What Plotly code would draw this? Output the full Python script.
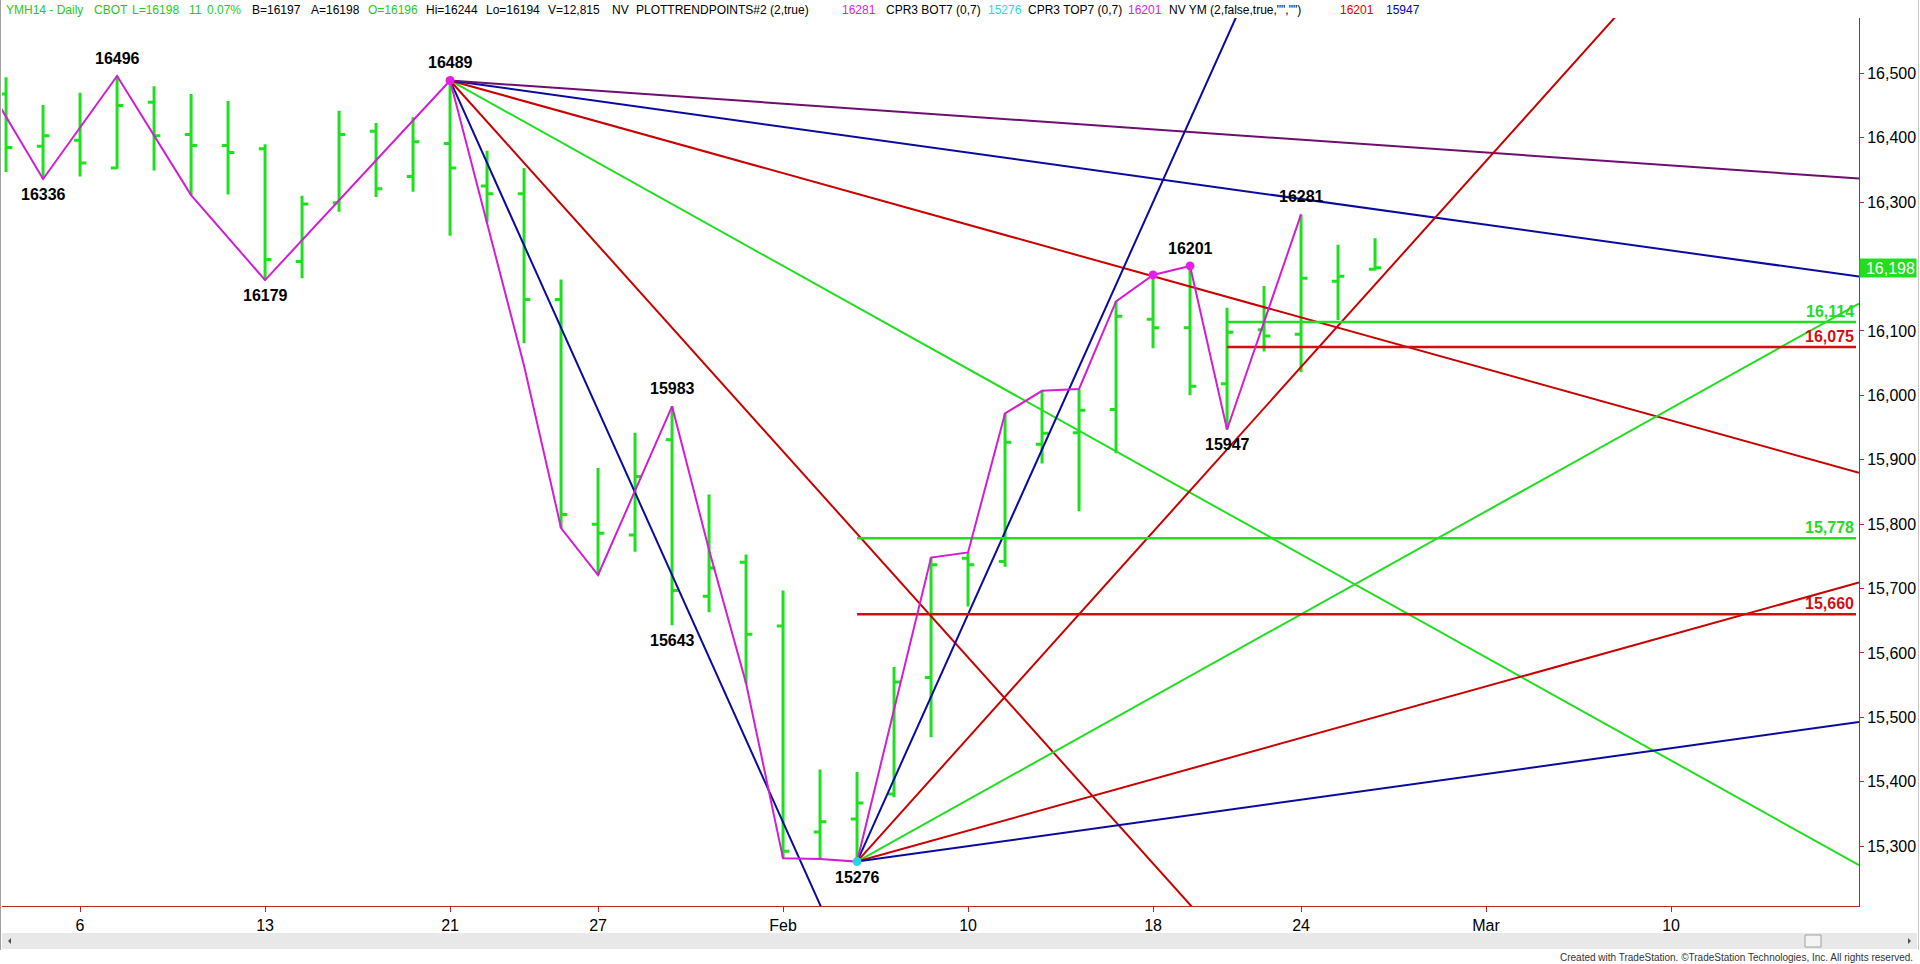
import plotly.graph_objects as go

# ---------------- data ----------------
bar_idx = list(range(-2, 36))   # trading-day index, 0 = Jan 6 2014
bar_open = [16468, 16387, 16396, 16353, 16455, 16405, 16388, 16383, 16208, 16299,
            16410, 16340, 16391, 16325, 16313, 16149, 15800, 15783, 15931, 15688,
            15741, 15642, 15322, 15342, 15381, 15562, 15747, 15742, 15924, 15942,
            15978, 16118, 16105, 16018, 16102, 16095, 16177, 16196]
bar_high = [16494, 16451, 16470, 16496, 16480, 16468, 16457, 16390, 16310, 16442,
            16423, 16432, 16489, 16380, 16353, 16180, 15887, 15942, 15983, 15846,
            15753, 15697, 15419, 15415, 15578, 15748, 15756, 15972, 16007, 16010,
            16146, 16187, 16201, 16136, 16170, 16281, 16234, 16244]
bar_low = [16347, 16336, 16340, 16352, 16349, 16311, 16312, 16179, 16182, 16285,
           16308, 16316, 16248, 16269, 16081, 15794, 15721, 15757, 15643, 15663,
           15553, 15281, 15280, 15276, 15376, 15469, 15672, 15734, 15894, 15820,
           15910, 16073, 16000, 15947, 16068, 16036, 16117, 16194]
bar_close = [16385, 16403, 16361, 16450, 16403, 16388, 16377, 16211, 16297, 16405,
             16321, 16394, 16353, 16313, 16149, 15815, 15786, 15874, 15697, 15732,
             15629, 15292, 15338, 15367, 15555, 15737, 15737, 15927, 15941, 15977,
             16123, 16105, 16014, 16098, 16092, 16182, 16185, 16198]

x_tick_idx = [0, 5, 10, 14, 19, 24, 29, 33, 38, 43]
x_tick_text = ["6", "13", "21", "27", "Feb", "10", "18", "24", "Mar", "10"]
y_tick_vals = [15300, 15400, 15500, 15600, 15700, 15800, 15900, 16000, 16100, 16200,
               16300, 16400, 16500]

swing_idx = [-2.16, -1, 1, 2, 3, 5, 10, 12, 13, 14, 16, 17, 18, 19, 20, 21, 23, 24,
             25, 26, 27, 28, 29, 30, 31, 33]
swing_val = [16448, 16336, 16496, 16404, 16311, 16179, 16489, 16046, 15794, 15721,
             15983, 15760, 15553, 15281, 15280, 15276, 15748, 15756, 15972, 16007,
             16010, 16146, 16187, 16201, 15947, 16281]

label_idx = [-1, 1, 5, 10, 16, 16, 21, 30, 31, 33]
label_val = [16336, 16496, 16179, 16489, 15983, 15643, 15276, 16201, 15947, 16281]
label_pos = ["below", "above", "below", "above", "above", "below", "below", "above",
             "below", "above"]

dot_idx = [10, 29, 30]
dot_val = [16489, 16187, 16201]
low_dot_idx = [21]
low_dot_val = [15276]

level_start = [21, 21, 31, 31]
level_val = [15778, 15660, 16114, 16075]
level_col = ["green", "red", "green", "red"]

high_pivot_idx, high_pivot_val = 10, 16489
low_pivot_idx, low_pivot_val = 21, 15276
high_fan_slopes = [-128, -64, -32, -16, -8, -4]     # points per bar
high_fan_cols = ["blue", "red", "green", "red", "blue", "purple"]
low_fan_slopes = [128, 64, 32, 16, 8]
low_fan_cols = ["blue", "red", "green", "red", "blue"]

last_price = 16198

# ---------------- style ----------------
COL = {"green": "#22DD22", "red": "#C80000", "blue": "#0A0A9E", "purple": "#6E0E6E"}
LEVEL_RED = "#D01010"
BAR_GREEN = "#1EE01E"
MAGENTA = "#D21ED2"
AXIS_RED = "#B02828"
FONT = "Arial, Liberation Sans, sans-serif"

PL, PR, PT, PB = 2, 1859, 18, 906
X_MIN, X_MAX = -2.11, 48.08
Y_MIN, Y_MAX = 15207, 16586


def px(x):
    return (x - PL) / (PR - PL)


def py(y):
    return (PB - y) / (PB - PT)


fig = go.Figure()

# fan lines
for s, c in zip(high_fan_slopes, high_fan_cols):
    fig.add_trace(go.Scatter(x=[high_pivot_idx, X_MAX],
                             y=[high_pivot_val, high_pivot_val + s * (X_MAX - high_pivot_idx)],
                             mode="lines", line=dict(color=COL[c], width=2),
                             hoverinfo="skip", showlegend=False))
for s, c in zip(low_fan_slopes, low_fan_cols):
    fig.add_trace(go.Scatter(x=[low_pivot_idx, X_MAX],
                             y=[low_pivot_val, low_pivot_val + s * (X_MAX - low_pivot_idx)],
                             mode="lines", line=dict(color=COL[c], width=2),
                             hoverinfo="skip", showlegend=False))

# horizontal levels
for st, v, c in zip(level_start, level_val, level_col):
    lc = COL[c] if c == "green" else LEVEL_RED
    fig.add_trace(go.Scatter(x=[st, X_MAX - 0.08], y=[v, v], mode="lines",
                             line=dict(color=lc, width=2.5),
                             hoverinfo="skip", showlegend=False))
    fig.add_annotation(x=X_MAX - 0.08, y=v, xref="x", yref="y", text="<b>%s</b>" % format(v, ","),
                       showarrow=False, xanchor="right", yanchor="bottom", yshift=0,
                       font=dict(family=FONT, size=16, color=lc))

# OHLC bars
fig.add_trace(go.Ohlc(x=bar_idx, open=bar_open, high=bar_high, low=bar_low, close=bar_close,
                      increasing=dict(line=dict(color=BAR_GREEN, width=3)),
                      decreasing=dict(line=dict(color=BAR_GREEN, width=3)),
                      tickwidth=0.17, hoverinfo="skip", showlegend=False))

# swing line
fig.add_trace(go.Scatter(x=swing_idx, y=swing_val, mode="lines",
                         line=dict(color=MAGENTA, width=2), hoverinfo="skip", showlegend=False))
fig.add_trace(go.Scatter(x=dot_idx, y=dot_val, mode="markers",
                         marker=dict(color="#E61EE6", size=9), hoverinfo="skip", showlegend=False))
fig.add_trace(go.Scatter(x=low_dot_idx, y=low_dot_val, mode="markers",
                         marker=dict(color="#28D2E6", size=9), hoverinfo="skip", showlegend=False))

# pivot labels
for i, v, p in zip(label_idx, label_val, label_pos):
    fig.add_annotation(x=i, y=v, xref="x", yref="y", text="<b>%d</b>" % v, showarrow=False,
                       xanchor="center", yanchor="bottom" if p == "above" else "top",
                       yshift=7 if p == "above" else -5,
                       font=dict(family=FONT, size=16, color="black"))

# last price box
fig.add_annotation(x=1.0, y=last_price, xref="paper", yref="y", text=format(last_price, ","),
                   showarrow=False, xanchor="left", yanchor="middle", xshift=0,
                   bgcolor="#22DD22", width=54, height=16, align="right", borderpad=1,
                   font=dict(family=FONT, size=16, color="white"))

# header
HG, HK, HM, HC, HR, HB = "#26C826", "black", "#DC1EDC", "#2CD8D8", "#DC0000", "#0000C8"
header = [("YMH14 - Daily", HG, 4), ("CBOT", HG, 92), ("L=16198", HG, 130), ("11", HG, 187),
          ("0.07%", HG, 205), ("B=16197", HK, 250), ("A=16198", HK, 309), ("O=16196", HG, 366),
          ("Hi=16244", HK, 424), ("Lo=16194", HK, 484), ("V=12,815", HK, 546), ("NV", HK, 610),
          ("PLOTTRENDPOINTS#2 (2,true)", HK, 634), ("16281", HM, 840),
          ("CPR3 BOT7 (0,7)", HK, 884), ("15276", HC, 986), ("CPR3 TOP7 (0,7)", HK, 1026),
          ("16201", HM, 1126), ("NV YM (2,false,true,\"\",\"\")", HK, 1167),
          ("16201", HR, 1338), ("15947", HB, 1384)]
for t, c, xp in header:
    fig.add_annotation(x=px(xp), y=py(10), xref="paper", yref="paper", text=t, showarrow=False,
                       xanchor="left", yanchor="middle",
                       font=dict(family=FONT, size=12, color=c))

# footer text
fig.add_annotation(x=px(1915), y=py(957), xref="paper", yref="paper",
                   text="Created with TradeStation. \u00a9TradeStation Technologies, Inc. All rights reserved.",
                   showarrow=False, xanchor="right", yanchor="middle",
                   font=dict(family=FONT, size=10, color="#333333"))

shapes = [
    # scrollbar
    dict(type="rect", xref="paper", yref="paper", x0=px(2), x1=px(1917), y0=py(949), y1=py(933),
         fillcolor="#E8E8E8", line=dict(width=0), layer="below"),
    dict(type="rect", xref="paper", yref="paper", x0=px(1805), x1=px(1821), y0=py(947), y1=py(935),
         fillcolor="#F4F4F4", line=dict(color="#A0A0A0", width=1)),
    dict(type="path", xref="paper", yref="paper",
         path="M %f %f L %f %f L %f %f Z" % (px(8), py(941), px(11), py(938), px(11), py(944)),
         fillcolor="#505050", line=dict(width=0)),
    dict(type="path", xref="paper", yref="paper",
         path="M %f %f L %f %f L %f %f Z" % (px(1911), py(941), px(1908), py(938), px(1908), py(944)),
         fillcolor="#505050", line=dict(width=0)),
    # window frame
    dict(type="line", xref="paper", yref="paper", x0=px(0.5), x1=px(0.5), y0=py(0), y1=py(950),
         line=dict(color="#A0A0A0", width=1)),
    dict(type="line", xref="paper", yref="paper", x0=px(1918.5), x1=px(1918.5), y0=py(0), y1=py(950),
         line=dict(color="#C8C8C8", width=1)),
]

fig.update_layout(
    width=1920, height=964,
    margin=dict(l=PL, r=1920 - PR, t=PT, b=964 - PB, pad=0),
    paper_bgcolor="white", plot_bgcolor="white",
    showlegend=False, shapes=shapes,
    xaxis=dict(range=[X_MIN, X_MAX], tickvals=x_tick_idx, ticktext=x_tick_text,
               showgrid=False, zeroline=False, showline=True, linecolor=AXIS_RED, linewidth=1,
               ticks="outside", ticklen=5, tickcolor=AXIS_RED,
               tickfont=dict(family=FONT, size=16, color="black"),
               rangeslider=dict(visible=False)),
    yaxis=dict(range=[Y_MIN, Y_MAX], side="right", tickvals=y_tick_vals, tickformat=",d",
               showgrid=False, zeroline=False, showline=True, linecolor=AXIS_RED, linewidth=1,
               ticks="outside", ticklen=4, tickcolor=AXIS_RED,
               tickfont=dict(family=FONT, size=16, color="black")),
)

fig.write_html("out.html", config={"displayModeBar": False},
               post_script="document.body.style.margin='0';document.body.style.overflow='hidden';")
